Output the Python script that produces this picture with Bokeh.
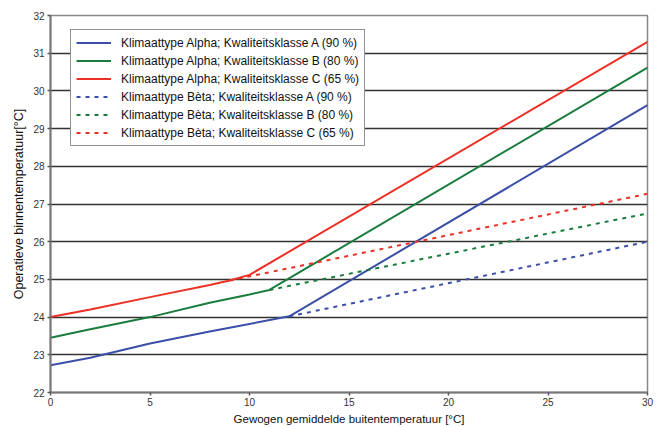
from bokeh.plotting import figure
from bokeh.models import Range1d, Legend, LegendItem, FixedTicker
from bokeh.embed import file_html
from bokeh.resources import INLINE

# Data
x_alpha_A = [0, 2, 5, 8, 9, 12, 30]
y_alpha_A = [22.72, 22.92, 23.3, 23.62, 23.72, 24.02, 29.62]
x_alpha_B = [0, 2, 5, 8, 10, 11, 30]
y_alpha_B = [23.45, 23.68, 24.0, 24.38, 24.6, 24.72, 30.62]
x_alpha_C = [0, 2, 5, 8, 9, 10, 30]
y_alpha_C = [24.0, 24.2, 24.53, 24.85, 24.97, 25.12, 31.3]
x_beta_A = [12, 30]
y_beta_A = [24.02, 26.0]
x_beta_B = [11, 30]
y_beta_B = [24.72, 26.75]
x_beta_C = [9, 30]
y_beta_C = [24.97, 27.27]

labels = [
    "Klimaattype Alpha; Kwaliteitsklasse A (90 %)",
    "Klimaattype Alpha; Kwaliteitsklasse B (80 %)",
    "Klimaattype Alpha; Kwaliteitsklasse C (65 %)",
    "Klimaattype Bèta; Kwaliteitsklasse A (90 %)",
    "Klimaattype Bèta; Kwaliteitsklasse B (80 %)",
    "Klimaattype Bèta; Kwaliteitsklasse C (65 %)",
]
x_ticks = [0, 5, 10, 15, 20, 25, 30]
y_ticks = [22, 23, 24, 25, 26, 27, 28, 29, 30, 31, 32]

BLUE = "#3b4fa8"
GREEN = "#1a7d3e"
RED = "#ec3026"
FONT = "Liberation Sans"

p = figure(width=667, height=427, output_backend="svg", toolbar_location=None,
           x_range=Range1d(0, 30), y_range=Range1d(22, 32),
           min_border_left=50, min_border_right=20, min_border_top=15, min_border_bottom=35)
p.background_fill_color = "white"
p.border_fill_color = "white"
p.outline_line_color = "#888888"
p.outline_line_width = 1.5

r1 = p.line(x_alpha_A, y_alpha_A, line_color=BLUE, line_width=2)
r2 = p.line(x_alpha_B, y_alpha_B, line_color=GREEN, line_width=2)
r3 = p.line(x_alpha_C, y_alpha_C, line_color=RED, line_width=2)
r4 = p.line(x_beta_A, y_beta_A, line_color=BLUE, line_width=2, line_dash="4 5")
r5 = p.line(x_beta_B, y_beta_B, line_color=GREEN, line_width=2, line_dash="4 5")
r6 = p.line(x_beta_C, y_beta_C, line_color=RED, line_width=2, line_dash="4 5")

p.xaxis.ticker = FixedTicker(ticks=x_ticks)
p.yaxis.ticker = FixedTicker(ticks=y_ticks)
p.xgrid.grid_line_color = None
p.ygrid.grid_line_color = "#333333"
p.ygrid.grid_line_width = 1.5

for ax in (p.xaxis[0], p.yaxis[0]):
    ax.axis_line_color = "#777777"
    ax.axis_line_width = 2
    ax.major_tick_line_color = "#555555"
    ax.major_tick_line_width = 1.5
    ax.major_tick_out = 3
    ax.major_tick_in = 0
    ax.minor_tick_line_color = None
    ax.major_label_text_font = FONT
    ax.major_label_text_font_size = "10px"
    ax.major_label_text_color = "#333333"
    ax.axis_label_text_font = FONT
    ax.axis_label_text_font_style = "normal"
    ax.axis_label_text_color = "#111111"

p.xaxis.axis_label = "Gewogen gemiddelde buitentemperatuur [°C]"
p.yaxis.axis_label = "Operatieve binnentemperatuur[°C]"
p.xaxis.axis_label_text_font_size = "11.5px"
p.yaxis.axis_label_text_font_size = "12.5px"
p.xaxis.major_label_standoff = 2
p.xaxis.axis_label_standoff = 4
p.yaxis.major_label_standoff = 3
p.yaxis.axis_label_standoff = 4

legend = Legend(items=[LegendItem(label=l, renderers=[r]) for l, r in
                       zip(labels, [r1, r2, r3, r4, r5, r6])],
                location=(20, 246))
legend.border_line_color = "#222222"
legend.border_line_width = 1
legend.background_fill_color = "white"
legend.background_fill_alpha = 1
legend.label_text_font = FONT
legend.label_text_font_size = "12px"
legend.label_text_color = "#111111"
legend.glyph_width = 35
legend.glyph_height = 15
legend.label_height = 15
legend.spacing = 3
legend.padding = 5
legend.margin = 0
legend.label_standoff = 10
p.add_layout(legend)

open("out.html", "w").write(file_html(p, INLINE))
